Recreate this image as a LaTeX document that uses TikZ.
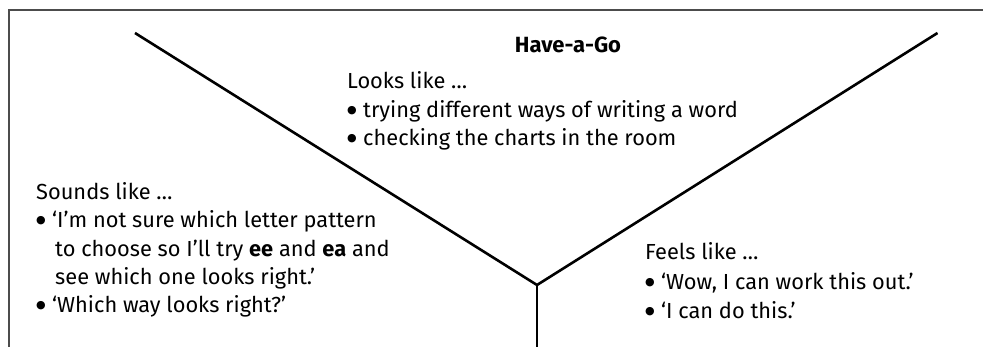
\documentclass[tikz,border=0pt]{standalone}
\usepackage{fontspec}
\setmainfont{Fira Sans}
\newfontfamily\symfont{DejaVu Sans}
\newcommand\mybul{\makebox[16pt][l]{\raisebox{4.5pt}{\symfont\fontsize{11}{11}\selectfont ●}}}
\begin{document}
\begin{tikzpicture}[x=1pt,y=-1pt,
  framestyle/.style={draw=black!70, line width=1.6pt},
  vline/.style={draw=black, line width=2.6pt},
  txt/.style={anchor=base west, inner sep=0pt, font=\fontsize{21.8}{26}\selectfont},
  title/.style={anchor=base, inner sep=0pt, font=\fontsize{22}{26}\selectfont\bfseries}]
\useasboundingbox (0,0) rectangle (983,347);
% frame
\coordinate (fbl) at (9,347);
\coordinate (ftl) at (9,10);
\coordinate (ftr) at (983,10);
\draw[framestyle] (fbl) -- (ftl) -- (ftr);
% Y shape
\coordinate (lt) at (135,33);
\coordinate (rt) at (937.5,33);
\coordinate (v) at (537,285);
\coordinate (b) at (537,347);
\draw[vline] (lt) -- (v) -- (rt);
\draw[vline] (v) -- (b);
% title
\node[title] (t) at (568,53) {Have-a-Go};
% Looks like
\node[txt] (l1) at (347,89) {Looks like …};
\node[txt] (l2) at (347,118) {\mybul trying different ways of writing a word};
\node[txt] (l3) at (347,146) {\mybul checking the charts in the room};
% Sounds like
\node[txt] (s1) at (36,200) {Sounds like …};
\node[txt] (s2) at (36,228) {\mybul ‘I’m not sure which letter pattern};
\node[txt] (s3) at (55,257) {to choose so I’ll try \textbf{ee} and \textbf{ea} and};
\node[txt] (s4) at (55,285) {see which one looks right.’};
\node[txt] (s5) at (36,313) {\mybul ‘Which way looks right?’};
% Feels like
\node[txt] (f1) at (645,260) {Feels like …};
\node[txt] (f2) at (645,290) {\mybul ‘Wow, I can work this out.’};
\node[txt] (f3) at (645,319) {\mybul ‘I can do this.’};
\end{tikzpicture}
\end{document}
